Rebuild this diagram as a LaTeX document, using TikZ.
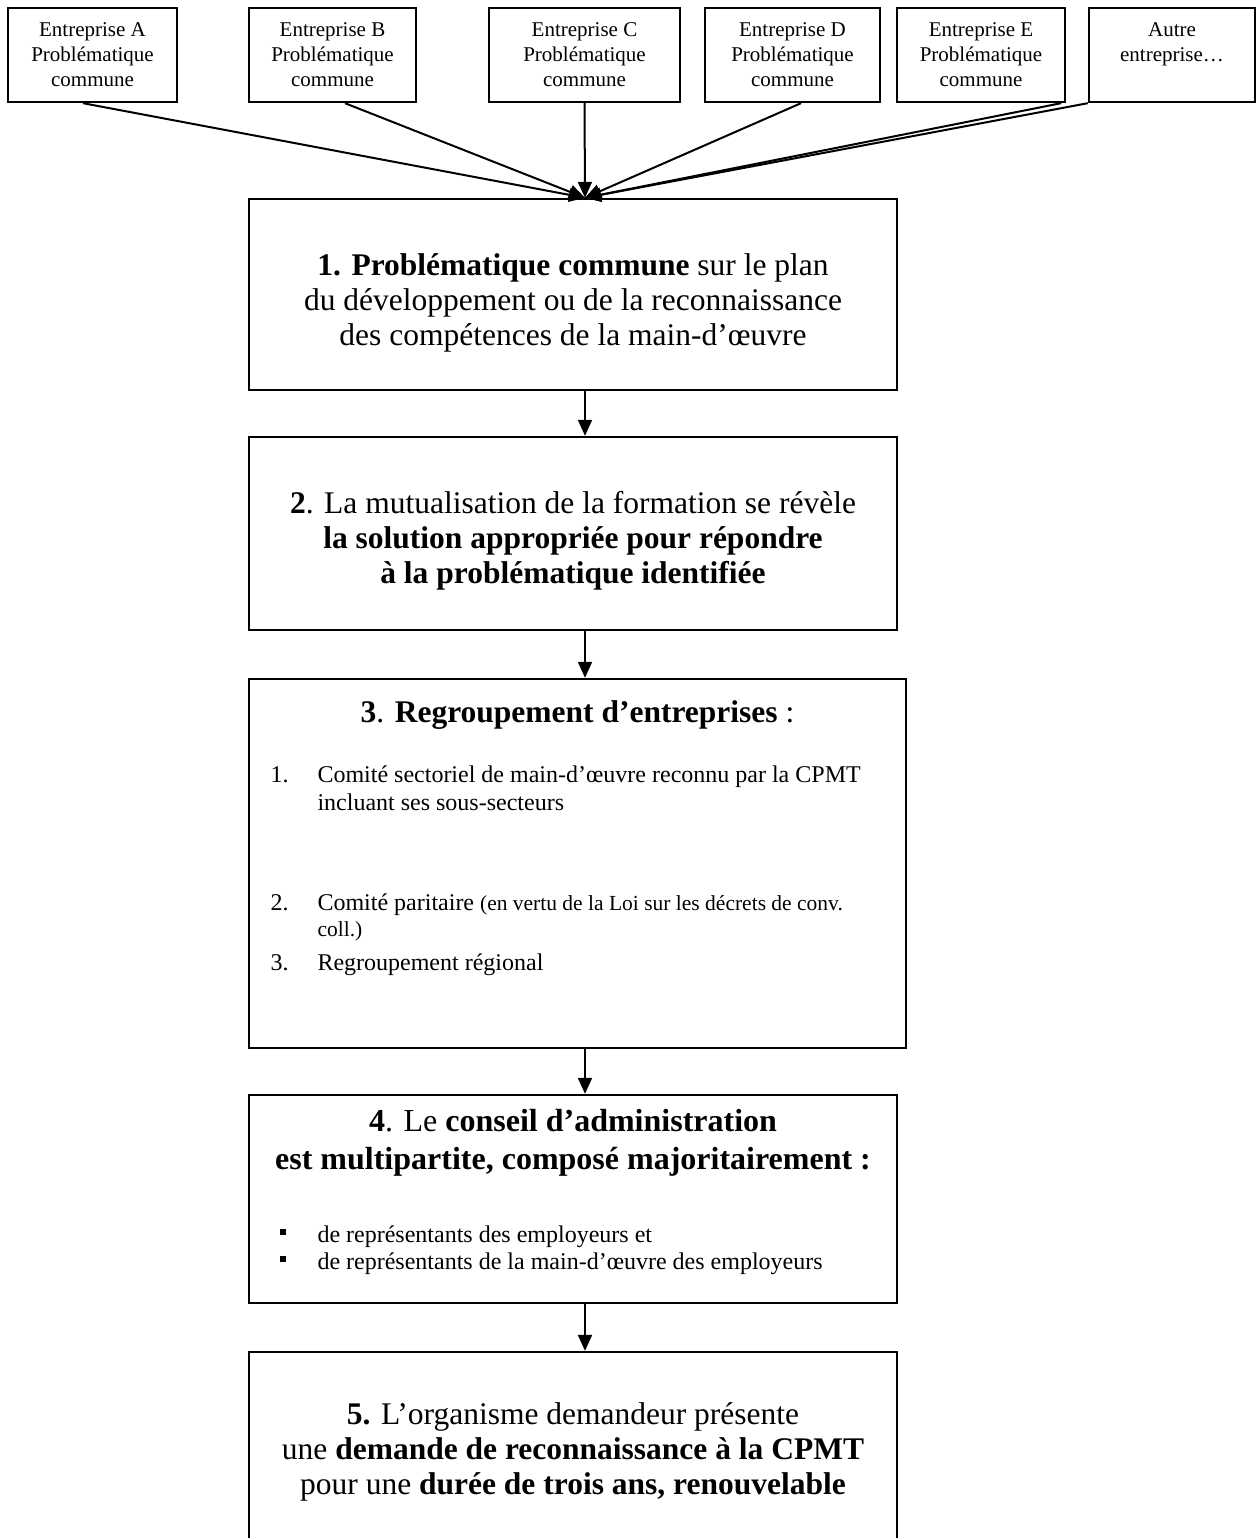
\documentclass[tikz,border=0pt]{standalone}
\usepackage{fontspec}
\setmainfont{Liberation Serif}
\usetikzlibrary{positioning, calc, arrows.meta}

\tikzset{
  entr/.style={draw, line width=0.95pt, inner sep=0pt, minimum height=37.6pt, align=center, font=\fontsize{8.4}{10}\selectfont},
  cadre/.style={draw, line width=0.95pt, inner sep=0pt, minimum width=259.2pt},
  grand/.style={align=center, inner sep=0pt, font=\fontsize{12.6}{14}\selectfont},
  liste/.style={anchor=base west, inner sep=0pt, font=\fontsize{9.6}{10.8}\selectfont},
  puce/.style={fill, inner sep=0pt, minimum size=2.4pt},
  fleche/.style={-{Triangle[length=6.4pt, width=5.6pt]}, line width=0.8pt},
}
\newcommand{\petitpar}{\fontsize{8.6}{10}\selectfont}

\begin{document}
\begin{tikzpicture}[x=0.4pt, y=-0.4pt]
  \useasboundingbox (0,0) rectangle (1259,1538);
  \clip (0,0) rectangle (1259,1538);

  % les entreprises
  \node[entr, minimum width=67.6pt] (eA) at (92.5,55) {Entreprise A\\Problématique\\commune};
  \node[entr, minimum width=66.8pt] (eB) at (332.5,55) {Entreprise B\\Problématique\\commune};
  \node[entr, minimum width=76.4pt] (eC) at (584.5,55) {Entreprise C\\Problématique\\commune};
  \node[entr, minimum width=70pt] (eD) at (792.5,55) {Entreprise D\\Problématique\\commune};
  \node[entr, minimum width=67.2pt] (eE) at (981,55) {Entreprise E\\Problématique\\commune};
  \node[entr, minimum width=66.4pt] (eF) at (1172,55) {Autre\\entreprise…\\~};

  % etape 1
  \node[cadre, minimum height=76.4pt] (b1) at (573,294.5) {};
  \node[grand] (t1) at (573,303) {\textbf{1. Problématique commune} sur le plan\\du développement ou de la reconnaissance\\des compétences de la main-d’œuvre};
  \coordinate (conv) at ([xshift=4.8pt]b1.north);

  \draw[fleche] ([xshift=-3.8pt]eA.south) -- (conv);
  \draw[fleche] ([xshift=5pt]eB.south) -- (conv);
  \draw[fleche] (eC.south) -- (conv);
  \draw[fleche] ([xshift=3.4pt]eD.south) -- (conv);
  \draw[fleche] ([xshift=-2pt]eE.south east) -- (conv);
  \draw[fleche] (eF.south west) -- (conv);

  % etape 2
  \node[cadre, minimum height=77.2pt] (b2) at (573,533.5) {};
  \node[grand] (t2) at (573,541) {\textbf{2}. La mutualisation de la formation se révèle\\\textbf{la solution appropriée pour répondre}\\\textbf{à la problématique identifiée}};

  % etape 3
  \node[cadre, minimum width=262.8pt, minimum height=147.6pt] (b3) at (577.5,863.5) {};
  \node[grand, anchor=base] (t3) at (577.5,722) {\textbf{3}. \textbf{Regroupement d’entreprises} :};
  \node[liste] (n1) at (270,782) {1.};
  \node[liste] (i1) at (317,782) {Comité sectoriel de main-d’œuvre reconnu par la CPMT};
  \node[liste] (i1b) at (317,810) {incluant ses sous-secteurs};
  \node[liste] (n2) at (270,910) {2.};
  \node[liste] (i2) at (317,910) {Comité paritaire {\petitpar(en vertu de la Loi sur les décrets de conv.}};
  \node[liste] (i2b) at (317,936) {\petitpar coll.)};
  \node[liste] (n3) at (270,970) {3.};
  \node[liste] (i3) at (317,970) {Regroupement régional};

  % etape 4
  \node[cadre, minimum height=83.2pt] (b4) at (573,1199) {};
  \node[grand, font=\fontsize{12.8}{15.2}\selectfont] (t4) at (573,1143) {\textbf{4}. Le \textbf{conseil d’administration}\\\textbf{est multipartite, composé majoritairement :}};
  \node[puce] (p1) at (283,1232) {};
  \node[liste] (j1) at (317,1242) {de représentants des employeurs et};
  \node[puce] (p2) at (283,1259) {};
  \node[liste] (j2) at (317,1269) {de représentants de la main-d’œuvre des employeurs};

  % etape 5
  \node[cadre, minimum height=80pt] (b5) at (573,1452) {};
  \node[grand] (t5) at (573,1452) {\textbf{5.} L’organisme demandeur présente\\une \textbf{demande de reconnaissance à la CPMT}\\pour une \textbf{durée de trois ans, renouvelable}};

  \draw[fleche] (b1.south -| conv) -- (b2.north -| conv);
  \draw[fleche] (b2.south -| conv) -- (b3.north -| conv);
  \draw[fleche] (b3.south -| conv) -- (b4.north -| conv);
  \draw[fleche] (b4.south -| conv) -- (b5.north -| conv);
\end{tikzpicture}
\end{document}
